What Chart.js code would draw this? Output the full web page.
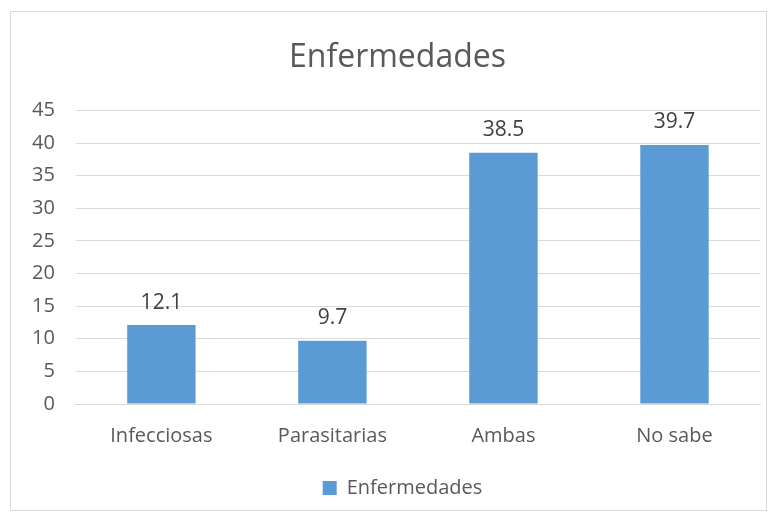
<!DOCTYPE html>
<html>
<head>
<meta charset="utf-8">
<script src="https://cdn.jsdelivr.net/npm/chart.js@4"></script>
<style>
  body { margin: 0; background: #fff; }
  #box { position: absolute; left: 10px; top: 11px; width: 755px; height: 498px; border: 1px solid #d9d9d9; }
</style>
</head>
<body>
<div id="box"><canvas id="chart" width="755" height="498"></canvas></div>
<script>
const categories = ['Infecciosas', 'Parasitarias', 'Ambas', 'No sabe'];
const values = [12.1, 9.7, 38.5, 39.7];
const seriesName = 'Enfermedades';

// draws the value above each bar
const valueLabels = {
    id: 'valueLabels',
    afterDatasetsDraw(chart) {
        const ctx = chart.ctx;
        ctx.save();
        ctx.font = '21px "Open Sans"';
        ctx.fillStyle = '#404040';
        ctx.textAlign = 'center';
        ctx.textBaseline = 'bottom';
        chart.getDatasetMeta(0).data.forEach((bar, i) => {
            ctx.fillText(values[i].toString(), bar.x, bar.y - 12);
        });
        ctx.restore();
    }
};

// title and legend sit a little right of centre in the original
const nudge = {
    id: 'nudge',
    afterLayout(chart) {
        chart.titleBlock.left += 12;
        chart.titleBlock.right += 12;
        chart.legend.left += 17;
        chart.legend.right += 17;
    }
};

const ctx = document.getElementById('chart').getContext('2d');
new Chart(ctx, {
    type: 'bar',
    data: {
        labels: categories,
        datasets: [{
            label: seriesName,
            data: values,
            backgroundColor: '#5b9bd5',
            categoryPercentage: 1,
            barPercentage: 0.4
        }]
    },
    options: {
        responsive: false,
        animation: false,
        layout: { padding: { left: 0, right: 6, top: 0, bottom: 2 } },
        scales: {
            y: {
                min: 0,
                max: 45,
                ticks: { stepSize: 5, padding: 21, color: '#595959', font: { family: 'Open Sans', size: 20 } },
                grid: { color: '#d9d9d9', drawTicks: false },
                border: { display: false }
            },
            x: {
                ticks: { padding: 12, color: '#595959', font: { family: 'Open Sans', size: 20 } },
                grid: { display: false },
                border: { color: '#d9d9d9' },
                afterFit(axis) { axis.height += 6; }
            }
        },
        plugins: {
            title: {
                display: true,
                text: seriesName,
                color: '#595959',
                font: { family: 'Open Sans', size: 32, weight: 'normal' },
                padding: { top: 27, bottom: 33 }
            },
            legend: {
                position: 'bottom',
                labels: {
                    boxWidth: 14,
                    boxHeight: 14,
                    padding: 12,
                    color: '#595959',
                    font: { family: 'Open Sans', size: 20 }
                }
            },
            tooltip: { enabled: false }
        }
    },
    plugins: [valueLabels, nudge]
});
</script>
</body>
</html>
